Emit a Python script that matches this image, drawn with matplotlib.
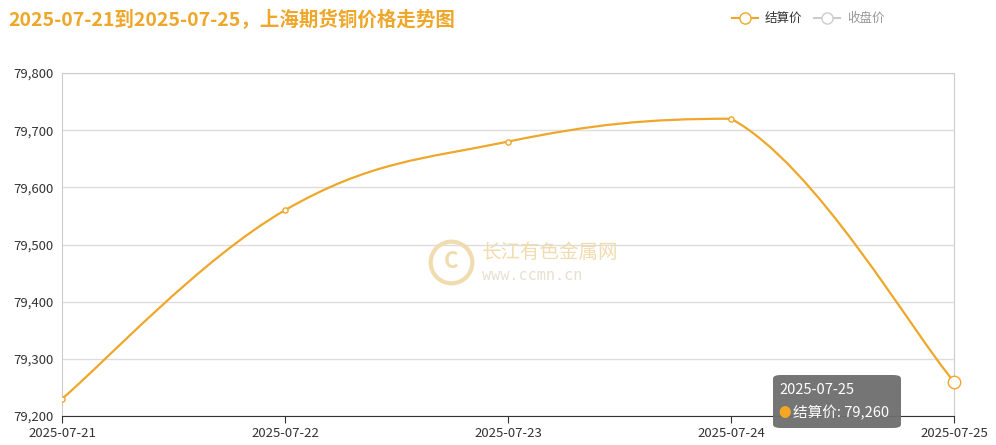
import numpy as np
import matplotlib.pyplot as plt
from matplotlib.path import Path
from matplotlib.patches import PathPatch, FancyBboxPatch

plt.rcParams['font.family'] = ['Noto Sans CJK SC', 'DejaVu Sans']

dates = ["2025-07-21", "2025-07-22", "2025-07-23", "2025-07-24", "2025-07-25"]
settle = [79230, 79560, 79680, 79720, 79260]
y_ticks = [79200, 79300, 79400, 79500, 79600, 79700, 79800]

orange = "#eea72a"

fig = plt.figure(figsize=(9.96, 4.45), dpi=100)
ax = fig.add_axes([62 / 996, 1 - 416 / 445, (954 - 62) / 996, (416 - 73) / 445])

x = np.arange(len(dates))
y = np.array(settle, dtype=float)


def clamp(v, a, b):
    return min(max(v, min(a, b)), max(a, b))


# smooth line like echarts (bezier through points, clamped so it never overshoots)
sm = 0.38
verts = [(x[0], y[0])]
codes = [Path.MOVETO]
for i in range(len(x) - 1):
    p0 = i - 1 if i > 0 else i
    p3 = i + 2 if i + 2 < len(x) else i + 1
    c1y = clamp(y[i] + (y[i + 1] - y[p0]) * sm / 2, y[i], y[i + 1])
    c2y = clamp(y[i + 1] - (y[p3] - y[i]) * sm / 2, y[i], y[i + 1])
    c1 = (x[i] + (x[i + 1] - x[p0]) * sm / 2, c1y)
    c2 = (x[i + 1] - (x[p3] - x[i]) * sm / 2, c2y)
    verts += [c1, c2, (x[i + 1], y[i + 1])]
    codes += [Path.CURVE4] * 3
ax.add_patch(PathPatch(Path(verts, codes), fill=False, edgecolor=orange, lw=1.6, zorder=3))
ax.scatter(x[:-1], y[:-1], s=14, facecolor="white", edgecolor=orange, lw=1, zorder=4)
ax.scatter(x[-1:], y[-1:], s=80, facecolor="white", edgecolor=orange, lw=1, zorder=4, clip_on=False)

ax.set_xlim(0, len(x) - 1)
ax.set_ylim(79200, 79800)
ax.set_yticks(y_ticks)
ax.set_yticklabels([f"{v:,}" for v in y_ticks], fontsize=9.5, color="#333")
ax.set_xticks(x)
ax.set_xticklabels(dates, fontsize=9.5, color="#333")
ax.grid(axis="y", color="#dddddd", lw=1)
ax.tick_params(axis="y", length=0, pad=6)
ax.tick_params(axis="x", length=5, color="#333", pad=3)
for s in ["top", "right", "left"]:
    ax.spines[s].set_color("#cccccc")
ax.spines["bottom"].set_color("#333")
ax.set_axisbelow(True)

fig.text(8 / 996, 1 - 20 / 445, "2025-07-21到2025-07-25，上海期货铜价格走势图",
         fontsize=14, fontweight="bold", color=orange, va="center")

# legend
for lx, label, col, tc in [(745, "结算价", orange, "#333"), (827, "收盘价", "#ccc", "#999")]:
    fig.lines.append(plt.Line2D([(lx - 13) / 996, (lx + 13) / 996], [1 - 18 / 445] * 2,
                                transform=fig.transFigure, color=col, lw=1.5))
    fig.lines.append(plt.Line2D([lx / 996], [1 - 18 / 445], transform=fig.transFigure,
                                marker="o", ms=8, mfc="white", mec=col, color=col))
    fig.text((lx + 20) / 996, 1 - 18 / 445, label, fontsize=9, color=tc, va="center")

# watermark
fig.lines.append(plt.Line2D([451 / 996], [1 - 262 / 445], transform=fig.transFigure,
                            marker="o", ms=30, mfc="none", mec="#f0dcae", mew=3))
fig.text(451 / 996, 1 - 262 / 445, "C", fontsize=16, fontweight="bold", color="#f0dcae",
         ha="center", va="center")
fig.text(482 / 996, 1 - 252 / 445, "长江有色金属网", fontsize=14, color="#f0dcae", va="center")
fig.text(482 / 996, 1 - 276 / 445, "www.ccmn.cn", fontsize=11, color="#e8e0d0", va="center",
         family="DejaVu Sans Mono")

# tooltip
fig.patches.append(FancyBboxPatch((773 / 996, 1 - 428 / 445), 128 / 996, 53 / 445,
                                  boxstyle="round,pad=0,rounding_size=0.008",
                                  transform=fig.transFigure, fc="#6e6e6e", ec="none",
                                  alpha=0.95, zorder=10))
fig.text(779 / 996, 1 - 390 / 445, dates[-1], fontsize=10.5, color="white", va="center", zorder=11)
fig.text(778 / 996, 1 - 413 / 445, "●", fontsize=9, color="#f5a623", va="center", zorder=11)
fig.text(793 / 996, 1 - 413 / 445, f"结算价: {settle[-1]:,}", fontsize=10.5, color="white",
         va="center", zorder=11)

fig.savefig("out.png", dpi=100)
